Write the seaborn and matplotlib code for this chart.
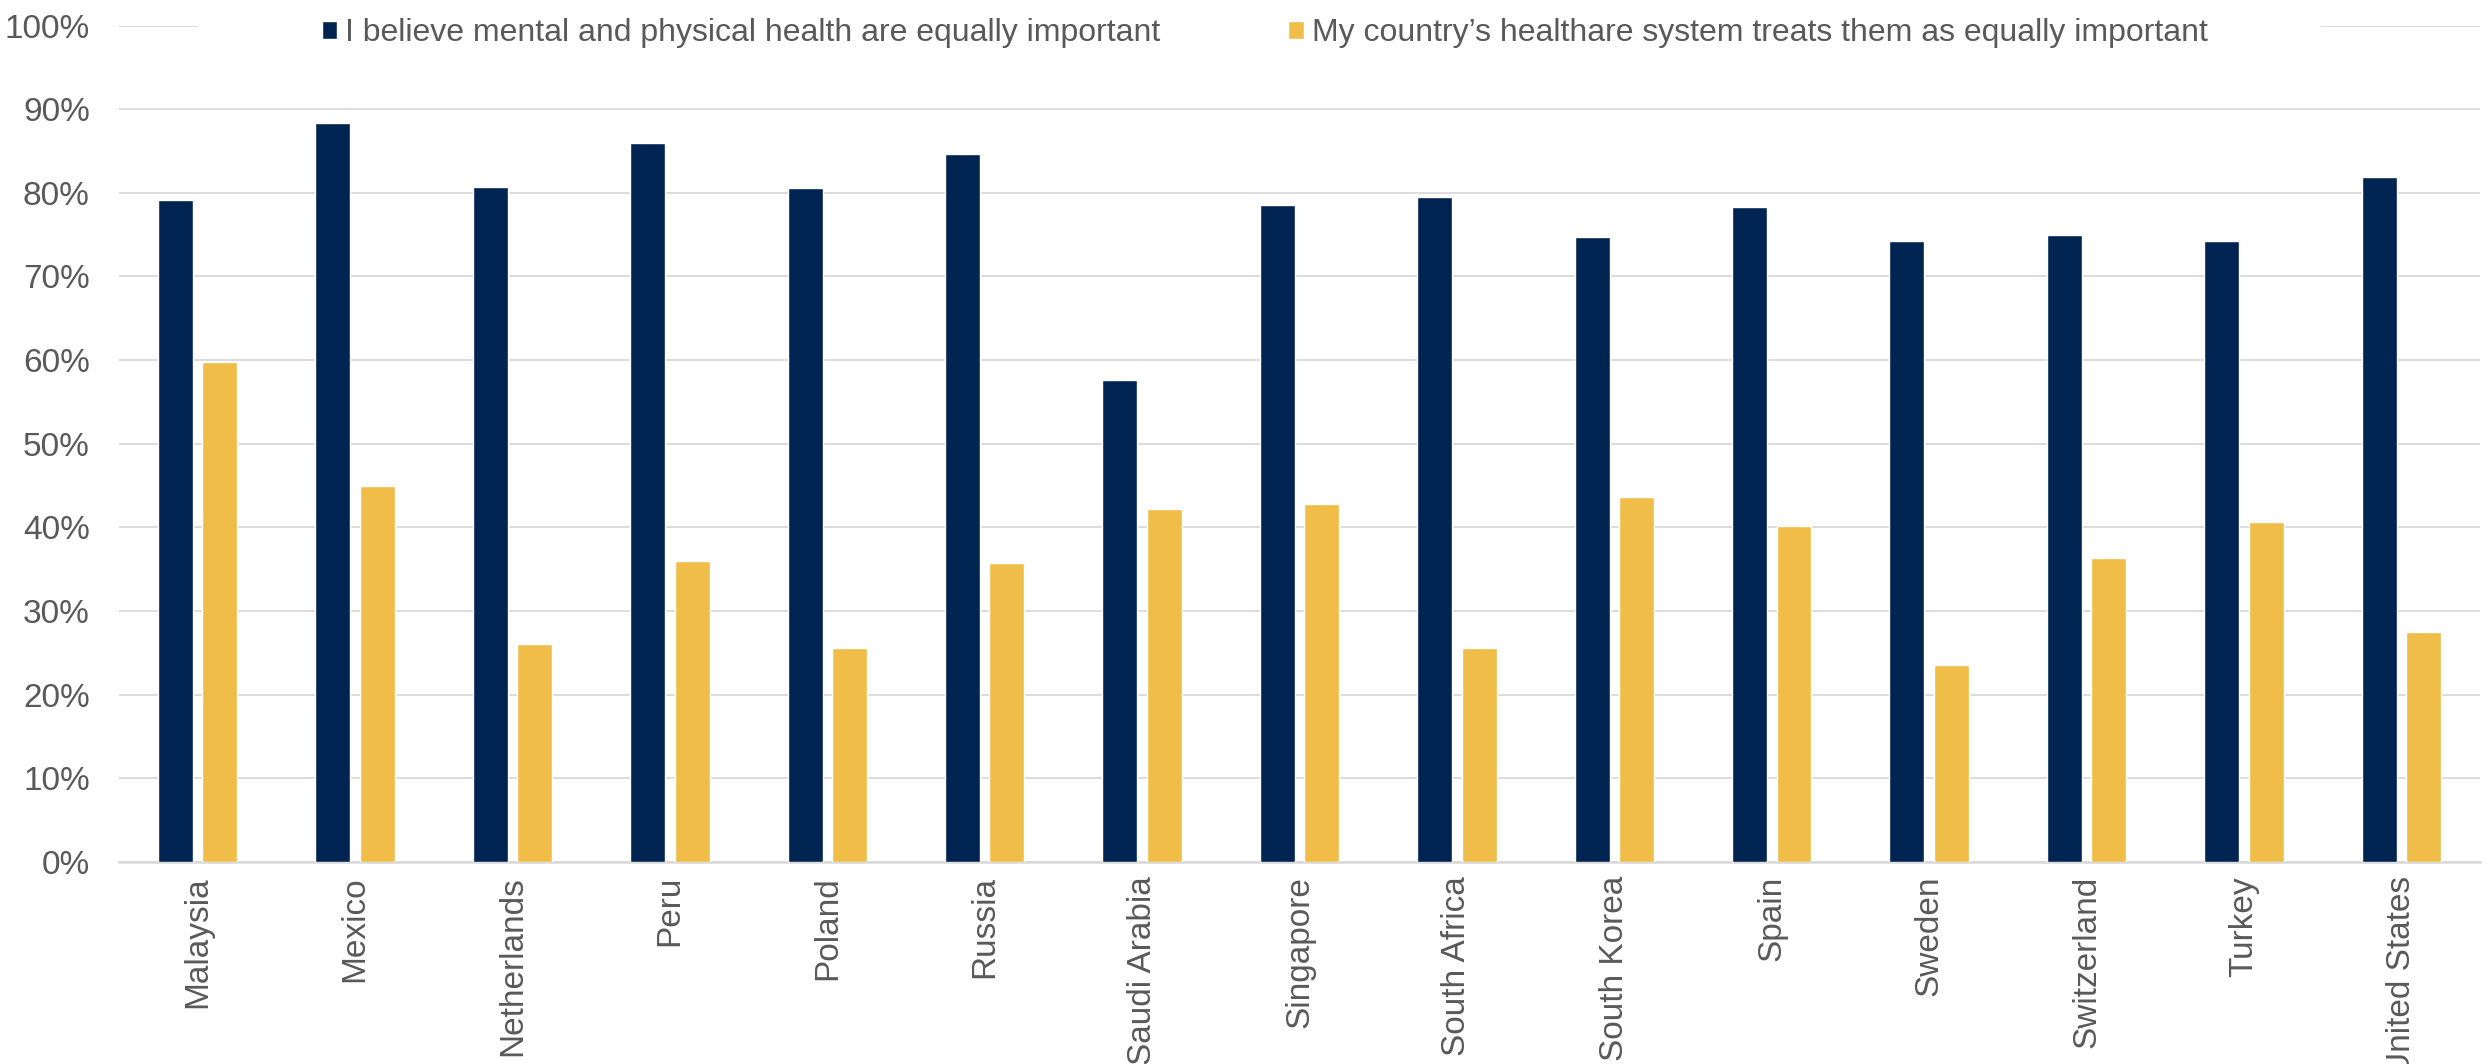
import matplotlib
matplotlib.use("Agg")
import matplotlib.pyplot as plt
from matplotlib.patches import Rectangle
from matplotlib.ticker import FuncFormatter, MultipleLocator
import seaborn as sns
import pandas as pd

countries = ["Malaysia", "Mexico", "Netherlands", "Peru", "Poland", "Russia",
             "Saudi Arabia", "Singapore", "South Africa", "South Korea", "Spain",
             "Sweden", "Switzerland", "Turkey", "United States"]
believe_equal = [79.2, 88.4, 80.7, 86.0, 80.6, 84.7, 57.6, 78.5, 79.5, 74.7,
                 78.3, 74.2, 75.0, 74.2, 81.9]
system_equal = [59.8, 44.9, 26.1, 36.0, 25.6, 35.8, 42.2, 42.8, 25.6, 43.6,
                40.2, 23.6, 36.3, 40.6, 27.5]
series_names = ["I believe mental and physical health are equally important",
                "My country\u2019s healthare system treats them as equally important"]
colors = ["#002452", "#F0BE48"]

df = pd.DataFrame({
    "country": countries * 2,
    "value": believe_equal + system_equal,
    "series": [series_names[0]] * len(countries) + [series_names[1]] * len(countries),
})

sns.set_style("white")
plt.rcParams["font.family"] = ["Liberation Sans", "DejaVu Sans"]
text_gray = "#595959"
grid_gray = "#D9D9D9"

fig = plt.figure(figsize=(24.89, 10.64), dpi=100)
ax = fig.add_axes([0.0478, 0.1898, 0.9486, 0.7862])

sns.barplot(data=df, x="country", y="value", hue="series", palette=colors,
            width=0.566, gap=0.215, saturation=1, ax=ax, legend=True, zorder=3)

ax.set_ylim(0, 100)
ax.set_xlim(-0.5, len(countries) - 0.5)
ax.yaxis.set_major_locator(MultipleLocator(10))
ax.yaxis.set_major_formatter(FuncFormatter(lambda v, _: f"{v:.0f}%"))
ax.set_xlabel("")
ax.set_ylabel("")

ax.grid(axis="y", color=grid_gray, linewidth=1.3, zorder=0)
ax.set_axisbelow(True)
for side in ["top", "right", "left"]:
    ax.spines[side].set_visible(False)
ax.spines["bottom"].set_color(grid_gray)
ax.spines["bottom"].set_linewidth(1.8)

ax.tick_params(axis="y", length=0, pad=21, labelsize=24, labelcolor=text_gray)
ax.tick_params(axis="x", length=0, pad=10, labelsize=24, labelcolor=text_gray)
for lbl in ax.get_xticklabels():
    lbl.set_rotation(90)
    lbl.set_ha("center")
    lbl.set_va("top")

# white band behind the legend, over the top gridline
ax.add_patch(Rectangle((0.0335, 0.975), 0.8992, 0.05, transform=ax.transAxes,
                       facecolor="white", edgecolor="none", clip_on=False, zorder=4))

handles, labels = ax.get_legend_handles_labels()
ax.get_legend().remove()
leg = fig.legend(handles, labels, loc="center", bbox_to_anchor=(0.5082, 0.969),
                 ncol=2, frameon=False, fontsize=23, labelcolor=text_gray,
                 handlelength=0.5, handleheight=0.5, handletextpad=0.25,
                 columnspacing=4.0, borderpad=0.2)
leg.set_zorder(5)

fig.savefig("out.png", dpi=100, facecolor="white")
